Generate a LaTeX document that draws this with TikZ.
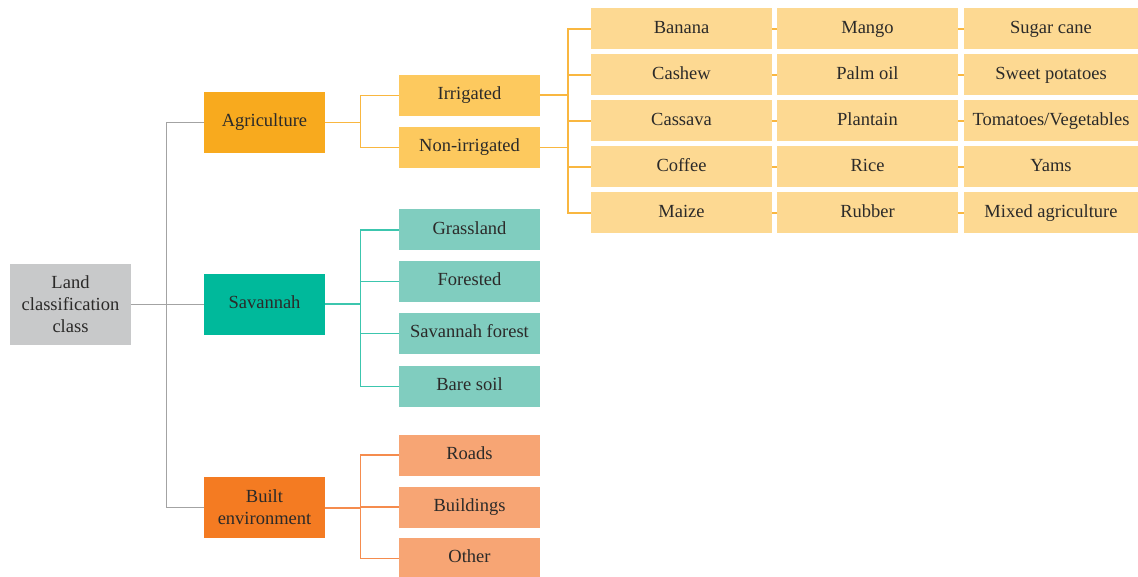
\documentclass[tikz,border=0pt]{standalone}
\usepackage{fontspec}
\setmainfont{Liberation Serif}
\definecolor{txt}{HTML}{2B2A29}
\definecolor{rootc}{HTML}{C8C9CA}
\definecolor{agric}{HTML}{F8AA1E}
\definecolor{irrc}{HTML}{FDC95E}
\definecolor{cropc}{HTML}{FDD992}
\definecolor{savc}{HTML}{00B99B}
\definecolor{savl}{HTML}{80CDBF}
\definecolor{builtc}{HTML}{F47B22}
\definecolor{builtl}{HTML}{F7A574}
\definecolor{greyln}{HTML}{A3A3A3}
\definecolor{orln}{HTML}{F9B740}
\definecolor{tealln}{HTML}{3CC6AE}
\definecolor{bln}{HTML}{F58C4E}
\tikzset{
  box/.style={rectangle, inner sep=0pt, align=center, text=txt, font=\fontsize{18.5}{22}\selectfont},
  one/.style={text height=12.5pt, text depth=4pt},
  lvlone/.style={box, minimum width=121pt, minimum height=61pt},
  lvltwo/.style={box, one, minimum width=141pt, minimum height=41pt},
  crop/.style={box, one, fill=cropc, minimum height=41pt},
  ln/.style={line width=1.3pt},
}
\begin{document}
\begin{tikzpicture}[x=1pt,y=-1pt]
\useasboundingbox (0,0) rectangle (1138,577);
% nodes
\node[box, fill=rootc, minimum width=121pt, minimum height=81pt] (root) at (70.5,304.5) {Land\\classification\\class};
\node[lvlone, one, fill=agric] (agri) at (264.5,122.5) {Agriculture};
\node[lvlone, one, fill=savc] (sav) at (264.5,304.5) {Savannah};
\node[lvlone, fill=builtc] (built) at (264.5,507.5) {Built\\environment};
\node[lvltwo, fill=irrc] (irr) at (469.5,95.5) {Irrigated};
\node[lvltwo, fill=irrc] (non) at (469.5,147.5) {Non-irrigated};
\node[lvltwo, fill=savl] (grass) at (469.5,230) {Grassland};
\node[lvltwo, fill=savl] (forest) at (469.5,281.5) {Forested};
\node[lvltwo, fill=savl] (savf) at (469.5,333.5) {Savannah forest};
\node[lvltwo, fill=savl] (bare) at (469.5,386.5) {Bare soil};
\node[lvltwo, fill=builtl] (roads) at (469.5,455) {Roads};
\node[lvltwo, fill=builtl] (bldg) at (469.5,507) {Buildings};
\node[lvltwo, fill=builtl] (other) at (469.5,558.5) {Other};
% crops
\foreach \n/\y/\a/\b/\c in {1/29/Banana/Mango/Sugar cane, 2/75/Cashew/Palm oil/Sweet potatoes, 3/121/Cassava/Plantain/{Tomatoes/Vegetables}, 4/167/Coffee/Rice/Yams, 5/213/Maize/Rubber/Mixed agriculture}{
  \node[crop, minimum width=181pt] (ca\n) at (681.5,\y) {\a};
  \node[crop, minimum width=181pt] (cb\n) at (867.5,\y) {\b};
  \node[crop, minimum width=174pt] (cc\n) at (1051,\y) {\c};
}
% connectors: root
\draw[ln, greyln] (root.east) -- (sav.west);
\draw[ln, greyln] (agri.west) -- ++(-37,0) |- (built.west);
% agriculture
\draw[ln, orln] (agri.east) -- ++(36,0);
\draw[ln, orln] (irr.west) -- ++(-38,0) |- (non.west);
\coordinate (cbr) at (568,0);
\draw[line width=2pt, orln] (irr.east) -- (irr.east -| cbr);
\draw[ln, orln] (non.east) -- (non.east -| cbr);
\draw[ln, orln] (ca1.west) -| (cbr |- ca5.west) -- (ca5.west);
\foreach \n in {2,3,4}{\draw[ln, orln] (ca\n.west) -- (ca\n.west -| cbr);}
\foreach \n in {1,...,5}{
  \draw[ln, orln] (ca\n.east) -- (cb\n.west);
  \draw[ln, orln] (cb\n.east) -- (cc\n.west);
}
% savannah
\draw[line width=2pt, tealln] (sav.east) -- ++(36,0);
\draw[ln, tealln] (grass.west) -- ++(-38,0) |- (bare.west);
\draw[ln, tealln] (forest.west) -- ++(-38,0);
\draw[ln, tealln] (savf.west) -- ++(-38,0);
% built
\draw[line width=2pt, bln] (built.east) -- ++(36,0);
\draw[ln, bln] (roads.west) -- ++(-38,0) |- (other.west);
\draw[ln, bln] (bldg.west) -- ++(-38,0);
\end{tikzpicture}
\end{document}
